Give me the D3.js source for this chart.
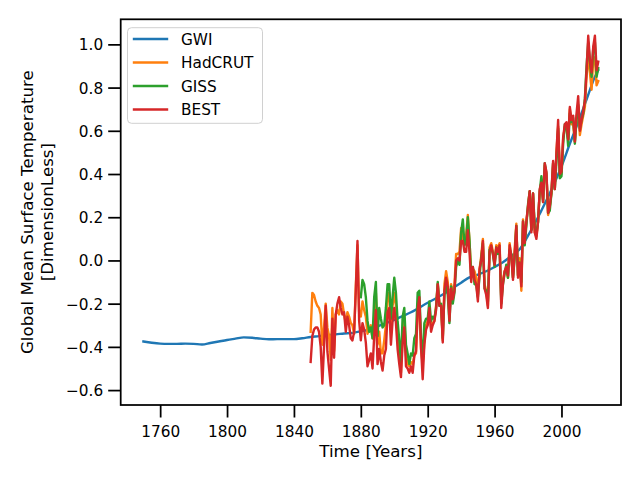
<!DOCTYPE html>
<html><head><meta charset="utf-8">
<script src="https://cdn.jsdelivr.net/npm/d3@7/dist/d3.min.js"></script>
<style>body{margin:0;background:#fff}svg{display:block}text{font-family:"DejaVu Sans",sans-serif;fill:#000}</style>
</head><body><svg id="c" width="640" height="480"></svg>
<script>
// ---- data ----
const gwiYears = [1750,1755,1760,1765,1770,1775,1780,1785,1790,1795,1800,1805,1810,1815,1820,1825,1830,1835,1840,1845,1850,1855,1860,1865,1870,1875,1880,1885,1890,1895,1900,1905,1910,1915,1920,1925,1930,1935,1940,1945,1950,1955,1960,1965,1970,1975,1980,1985,1990,1995,2000,2005,2010,2015,2020,2022];
const gwiValues = [-0.375,-0.381,-0.385,-0.386,-0.386,-0.385,-0.386,-0.389,-0.382,-0.375,-0.368,-0.362,-0.356,-0.358,-0.362,-0.365,-0.364,-0.364,-0.364,-0.36,-0.354,-0.350,-0.345,-0.342,-0.338,-0.335,-0.328,-0.320,-0.305,-0.290,-0.275,-0.258,-0.240,-0.218,-0.196,-0.175,-0.153,-0.128,-0.103,-0.078,-0.066,-0.050,-0.030,-0.008,0.020,0.052,0.115,0.185,0.262,0.345,0.435,0.540,0.640,0.745,0.850,0.880];

const hadcrutStart = 1850;
const hadcrutValues = [
 -0.33,-0.15,-0.16,-0.19,-0.21,-0.22,-0.25,-0.39,-0.31,-0.20,
 -0.31,-0.35,-0.46,-0.22,-0.42,-0.25,-0.23,-0.25,-0.19,-0.20,
 -0.25,-0.29,-0.24,-0.26,-0.29,-0.30,-0.34,-0.12,0.07,-0.24,
 -0.26,-0.19,-0.23,-0.26,-0.34,-0.32,-0.30,-0.36,-0.26,-0.15,
 -0.39,-0.33,-0.43,-0.43,-0.37,-0.30,-0.16,-0.15,-0.32,-0.21,
 -0.15,-0.21,-0.35,-0.43,-0.52,-0.35,-0.27,-0.44,-0.48,-0.49,
 -0.47,-0.48,-0.44,-0.43,-0.24,-0.19,-0.41,-0.48,-0.38,-0.30,
 -0.28,-0.23,-0.31,-0.29,-0.28,-0.21,-0.11,-0.20,-0.21,-0.37,
 -0.11,-0.05,-0.10,-0.25,-0.11,-0.16,-0.11,0.03,0.03,0.04,
 0.15,0.10,0.11,0.12,0.21,0.09,-0.06,-0.04,-0.05,-0.08,
 -0.16,-0.04,0.02,0.10,-0.11,-0.14,-0.21,0.06,0.08,0.04,
 -0.01,0.07,0.06,0.08,-0.18,-0.09,-0.05,-0.04,-0.08,0.08,
 0.02,-0.08,0.05,0.17,-0.07,0.01,-0.14,0.19,0.10,0.18,
 0.25,0.32,0.15,0.31,0.13,0.11,0.18,0.32,0.36,0.28,
 0.44,0.40,0.21,0.25,0.31,0.45,0.33,0.50,0.62,0.41,
 0.40,0.56,0.62,0.63,0.56,0.70,0.63,0.63,0.55,0.66,
 0.71,0.58,0.63,0.67,0.71,0.85,0.95,0.87,0.79,0.93,
 0.94,0.81,0.83];

const gissStart = 1880;
const gissValues = [
 -0.17,-0.09,-0.11,-0.17,-0.28,-0.33,-0.31,-0.36,-0.17,-0.10,
 -0.35,-0.22,-0.27,-0.31,-0.30,-0.22,-0.11,-0.11,-0.27,-0.17,
 -0.08,-0.15,-0.28,-0.37,-0.47,-0.26,-0.22,-0.39,-0.43,-0.48,
 -0.43,-0.44,-0.36,-0.34,-0.15,-0.14,-0.36,-0.46,-0.29,-0.27,
 -0.27,-0.19,-0.28,-0.26,-0.27,-0.22,-0.10,-0.21,-0.20,-0.36,
 -0.16,-0.09,-0.16,-0.29,-0.12,-0.20,-0.15,-0.03,0.00,-0.02,
 0.13,0.19,0.07,0.09,0.20,0.09,-0.07,-0.03,-0.11,-0.11,
 -0.17,-0.07,0.01,0.08,-0.13,-0.14,-0.19,0.05,0.06,0.03,
 -0.03,0.06,0.03,0.05,-0.20,-0.11,-0.06,-0.02,-0.08,0.05,
 0.03,-0.08,0.01,0.16,-0.07,-0.01,-0.10,0.18,0.07,0.16,
 0.26,0.32,0.14,0.31,0.16,0.12,0.18,0.32,0.39,0.27,
 0.45,0.40,0.22,0.23,0.31,0.45,0.33,0.46,0.61,0.38,
 0.39,0.54,0.63,0.62,0.53,0.68,0.64,0.66,0.54,0.65,
 0.72,0.61,0.65,0.68,0.75,0.90,1.01,0.92,0.85,0.98,
 1.01,0.85,0.89];

const bestStart = 1850;
const bestValues = [
 -0.47,-0.35,-0.32,-0.31,-0.31,-0.33,-0.40,-0.57,-0.40,-0.21,
 -0.42,-0.50,-0.58,-0.27,-0.45,-0.25,-0.20,-0.17,-0.22,-0.25,
 -0.24,-0.33,-0.26,-0.30,-0.36,-0.37,-0.33,-0.14,0.09,-0.28,
 -0.37,-0.29,-0.32,-0.38,-0.49,-0.46,-0.43,-0.50,-0.35,-0.23,
 -0.48,-0.41,-0.47,-0.51,-0.44,-0.41,-0.24,-0.22,-0.39,-0.28,
 -0.22,-0.29,-0.41,-0.48,-0.54,-0.38,-0.31,-0.49,-0.50,-0.52,
 -0.49,-0.52,-0.44,-0.42,-0.23,-0.17,-0.40,-0.55,-0.39,-0.32,
 -0.30,-0.22,-0.33,-0.30,-0.28,-0.23,-0.11,-0.21,-0.21,-0.38,
 -0.14,-0.08,-0.12,-0.28,-0.13,-0.18,-0.14,0.00,0.01,0.00,
 0.09,0.09,0.04,0.04,0.14,0.04,-0.10,-0.03,-0.09,-0.11,
 -0.19,-0.04,0.00,0.09,-0.13,-0.16,-0.22,0.04,0.07,0.03,
 -0.02,0.06,0.04,0.07,-0.22,-0.11,-0.05,-0.03,-0.07,0.07,
 0.02,-0.09,0.03,0.16,-0.08,-0.01,-0.12,0.18,0.08,0.18,
 0.25,0.32,0.13,0.31,0.13,0.10,0.18,0.33,0.36,0.27,
 0.45,0.41,0.22,0.25,0.32,0.46,0.33,0.50,0.65,0.40,
 0.41,0.57,0.63,0.64,0.56,0.71,0.65,0.67,0.55,0.68,
 0.76,0.60,0.65,0.69,0.74,0.88,1.04,0.93,0.87,0.99,
 1.04,0.88,0.92];

const xTicks = [1760,1800,1840,1880,1920,1960,2000];
const yTicks = [-0.6,-0.4,-0.2,0.0,0.2,0.4,0.6,0.8,1.0];
const seriesNames = ["GWI","HadCRUT","GISS","BEST"];
const seriesColors = ["#1f77b4","#ff7f0e","#2ca02c","#d62728"];

// ---- layout ----
const L = 120.7, R = 621, T = 19.3, B = 405;
const svg = d3.select("#c");
const x = d3.scaleLinear().domain([1736.4, 2035.6]).range([L, R]);
const y = d3.scaleLinear().domain([-0.669, 1.116]).range([B, T]);

const toPts = (start, vals) => vals.map((v, i) => [start + i, v]);
const series = [
  gwiYears.map((yr, i) => [yr, gwiValues[i]]),
  toPts(hadcrutStart, hadcrutValues),
  toPts(gissStart, gissValues),
  toPts(bestStart, bestValues)
];

const clipId = "plotclip";
svg.append("defs").append("clipPath").attr("id", clipId)
  .append("rect").attr("x", L).attr("y", T).attr("width", R - L).attr("height", B - T);

const g = svg.append("g").attr("clip-path", `url(#${clipId})`);
series.forEach((pts, i) => {
  const line = d3.line().x(d => x(d[0])).y(d => y(d[1]));
  if (i === 0) line.curve(d3.curveMonotoneX);
  g.append("path").attr("d", line(pts)).attr("fill", "none")
    .attr("stroke", seriesColors[i]).attr("stroke-width", 2.4)
    .attr("stroke-linejoin", "round").attr("stroke-linecap", "square");
});

// axes
const fmt = v => (v < 0 ? "\u2212" : "") + Math.abs(v).toFixed(1);
const xAxis = d3.axisBottom(x).tickValues(xTicks).tickFormat(d3.format("d")).tickSize(12.5).tickSizeOuter(0).tickPadding(6);
const yAxis = d3.axisLeft(y).tickValues(yTicks).tickFormat(fmt).tickSize(12.5).tickSizeOuter(0).tickPadding(5);
const gx = svg.append("g").attr("transform", `translate(0,${B})`).call(xAxis);
const gy = svg.append("g").attr("transform", `translate(${L},0)`).call(yAxis);
[gx, gy].forEach(a => {
  a.select(".domain").remove();
  a.selectAll(".tick line").attr("stroke", "#000").attr("stroke-width", 1.75);
  a.selectAll(".tick text").attr("font-size", 15.3).attr("font-family", "DejaVu Sans").attr("fill", "#000");
});
gx.selectAll(".tick text").attr("dy", null).attr("y", 32);
gy.selectAll(".tick text").attr("x", -17.5).attr("dy", "0.36em");

// frame
svg.append("rect").attr("x", L).attr("y", T).attr("width", R - L).attr("height", B - T)
  .attr("fill", "none").attr("stroke", "#000").attr("stroke-width", 1.75);

// labels
svg.append("text").attr("x", (L + R) / 2).attr("y", 457).attr("text-anchor", "middle")
  .attr("font-size", 16.7).text("Time [Years]");
const yl = svg.append("text").attr("transform", `translate(0,${(T + B) / 2}) rotate(-90)`)
  .attr("text-anchor", "middle").attr("font-size", 16.7);
yl.append("tspan").attr("x", 0).attr("y", 33).text("Global Mean Surface Temperature");
yl.append("tspan").attr("x", 0).attr("y", 53).text("[DimensionLess]");

// legend
const lg = svg.append("g");
lg.append("rect").attr("x", 127.5).attr("y", 27.7).attr("width", 135).attr("height", 95.6)
  .attr("rx", 4).attr("fill", "#fff").attr("fill-opacity", 0.8).attr("stroke", "#d0d0d0").attr("stroke-width", 1);
seriesNames.forEach((n, i) => {
  const yy = 39 + i * 23.5;
  lg.append("line").attr("x1", 134).attr("x2", 167).attr("y1", yy).attr("y2", yy)
    .attr("stroke", seriesColors[i]).attr("stroke-width", 2.4).attr("stroke-linecap", "square");
  lg.append("text").attr("x", 181).attr("y", yy + 5.5).attr("font-size", 15.3).text(n);
});
</script></body></html>
